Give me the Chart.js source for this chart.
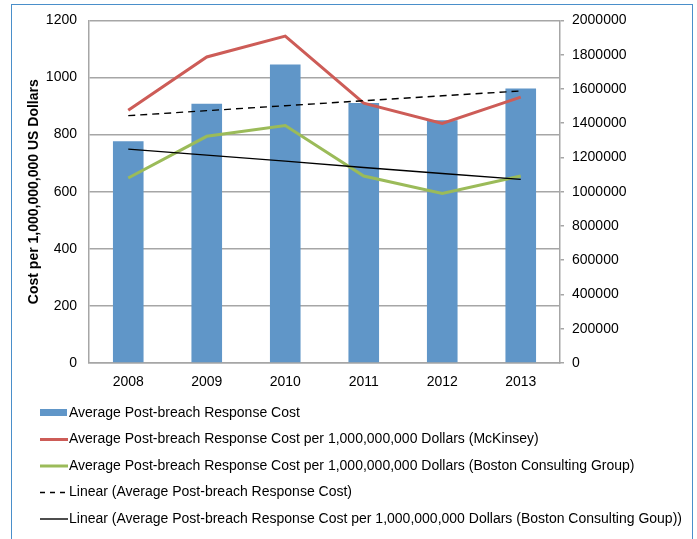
<!DOCTYPE html>
<html>
<head>
<meta charset="utf-8">
<script src="https://cdn.jsdelivr.net/npm/chart.js@4"></script>
<style>
  html, body { margin: 0; padding: 0; background: #fff; }
  #wrap { position: relative; width: 697px; height: 539px; }
  #frame { position: absolute; left: 11px; top: 4px; width: 682px; height: 560px;
           border: 1.5px solid #4a8fca; box-sizing: border-box; }
  canvas { position: absolute; left: 0; top: 0; }
</style>
</head>
<body>
<div id="wrap">
  <div id="frame"></div>
  <canvas id="chart" width="697" height="539"></canvas>
</div>
<script>
const years = ["2008", "2009", "2010", "2011", "2012", "2013"];
// average post-breach response cost (right axis, dollars)
const avgCost = [1294000, 1514000, 1743000, 1518000, 1417000, 1603000];
// cost per 1,000,000,000 dollars (left axis)
const mckinsey = [885, 1072, 1145, 910, 839, 931];
const bcg = [648, 794, 832, 655, 594, 655];
// trend lines
const trendAvgCost = [1444000, 1473000, 1502000, 1531000, 1560000, 1588000];
const trendBcg = [749, 728, 707, 685, 664, 643];

const leftTicks = [0, 200, 400, 600, 800, 1000, 1200];
const rightTicks = [0, 200000, 400000, 600000, 800000, 1000000, 1200000, 1400000, 1600000, 1800000, 2000000];

const FONT = "'Liberation Sans', Arial, sans-serif";
const gridColor = '#a6a6a6';

// one item per row, under the chart
const rowLegend = {
    id: 'rowLegend',
    afterDraw(chart) {
        const ctx = chart.ctx;
        ctx.save();
        ctx.font = '14px ' + FONT;
        ctx.textBaseline = 'middle';
        let y = 413;
        chart.data.datasets.forEach(ds => {
            if (ds.type === 'bar') {
                ctx.fillStyle = ds.backgroundColor;
                ctx.fillRect(40, y - 4, 27, 7);
            } else {
                ctx.strokeStyle = ds.borderColor;
                ctx.lineWidth = ds.borderWidth;
                ctx.setLineDash(ds.borderDash ? [5, 5] : []);
                ctx.beginPath();
                ctx.moveTo(40, y);
                ctx.lineTo(68, y);
                ctx.stroke();
                ctx.setLineDash([]);
            }
            ctx.fillStyle = '#000';
            ctx.fillText(ds.label, 69, y);
            y += 26.5;
        });
        ctx.restore();
    }
};

new Chart(document.getElementById('chart'), {
    data: {
        labels: years,
        datasets: [
            {
                type: 'bar',
                label: 'Average Post-breach Response Cost',
                data: avgCost,
                yAxisID: 'y1',
                backgroundColor: '#6096c8',
                barPercentage: 0.39,
                categoryPercentage: 1,
                order: 5
            },
            {
                type: 'line',
                label: 'Average Post-breach Response Cost per 1,000,000,000 Dollars (McKinsey)',
                data: mckinsey,
                yAxisID: 'y',
                borderColor: '#cd5c57',
                borderWidth: 3,
                pointRadius: 0,
                tension: 0,
                order: 2
            },
            {
                type: 'line',
                label: 'Average Post-breach Response Cost per 1,000,000,000 Dollars (Boston Consulting Group)',
                data: bcg,
                yAxisID: 'y',
                borderColor: '#9bbb59',
                borderWidth: 3,
                pointRadius: 0,
                tension: 0,
                order: 3
            },
            {
                type: 'line',
                label: 'Linear (Average Post-breach Response Cost)',
                data: trendAvgCost,
                yAxisID: 'y1',
                borderColor: '#000',
                borderWidth: 1.4,
                borderDash: [7, 5],
                pointRadius: 0,
                order: 1
            },
            {
                type: 'line',
                label: 'Linear (Average Post-breach Response Cost per 1,000,000,000 Dollars (Boston Consulting Goup))',
                data: trendBcg,
                yAxisID: 'y',
                borderColor: '#000',
                borderWidth: 1.4,
                pointRadius: 0,
                order: 0
            }
        ]
    },
    plugins: [rowLegend],
    options: {
        responsive: false,
        animation: false,
        layout: { padding: { top: 20, left: 0, right: 0, bottom: 0 } },
        plugins: {
            legend: { display: false },
            tooltip: { enabled: false }
        },
        scales: {
            x: {
                grid: { display: false, drawTicks: false },
                border: { color: gridColor, width: 1.5 },
                ticks: { color: '#000', font: { family: FONT, size: 14 }, padding: 11 },
                afterFit(s) { s.height = 176; }
            },
            y: {
                position: 'left',
                min: 0, max: 1200,
                afterBuildTicks(s) { s.ticks = leftTicks.map(v => ({ value: v })); },
                grid: { color: gridColor, lineWidth: 1.5, drawTicks: false },
                border: { color: gridColor, width: 1.5 },
                ticks: { color: '#000', font: { family: FONT, size: 14 }, padding: 12, callback: v => String(v) },
                title: {
                    display: true,
                    text: 'Cost per 1,000,000,000 US Dollars',
                    color: '#000',
                    font: { family: FONT, size: 14, weight: 'bold' },
                    padding: { top: 26, bottom: 0 }
                },
                afterFit(s) { s.width = 89; }
            },
            y1: {
                position: 'right',
                min: 0, max: 2000000,
                afterBuildTicks(s) { s.ticks = rightTicks.map(v => ({ value: v })); },
                grid: { drawOnChartArea: false, color: gridColor, lineWidth: 1.5, tickLength: 4 },
                border: { color: gridColor, width: 1.5 },
                ticks: { color: '#000', font: { family: FONT, size: 14 }, padding: 8, callback: v => String(v) },
                afterFit(s) { s.width = 137; }
            }
        }
    }
});
</script>
</body>
</html>
